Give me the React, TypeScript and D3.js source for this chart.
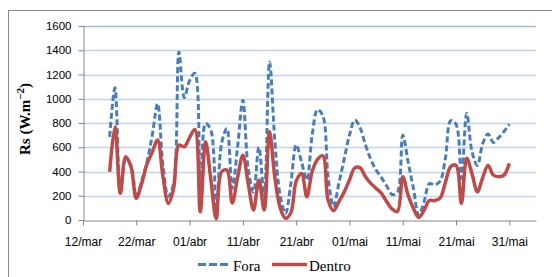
import React, { useEffect, useRef } from 'react';
import * as d3 from 'd3';

// daily values (17/mar .. 31/mai)
const dates = [
  '17/mar', '18/mar', '19/mar', '20/mar', '21/mar', '22/mar', '23/mar', '24/mar', '25/mar', '26/mar',
  '27/mar', '28/mar', '29/mar', '30/mar', '31/mar',
  '01/abr', '02/abr', '03/abr', '04/abr', '05/abr', '06/abr', '07/abr', '08/abr', '09/abr', '10/abr',
  '11/abr', '12/abr', '13/abr', '14/abr', '15/abr', '16/abr', '17/abr', '18/abr', '19/abr', '20/abr',
  '21/abr', '22/abr', '23/abr', '24/abr', '25/abr', '26/abr', '27/abr', '28/abr', '29/abr', '30/abr',
  '01/mai', '02/mai', '03/mai', '04/mai', '05/mai', '06/mai', '07/mai', '08/mai', '09/mai', '10/mai',
  '11/mai', '12/mai', '13/mai', '14/mai', '15/mai', '16/mai', '17/mai', '18/mai', '19/mai', '20/mai',
  '21/mai', '22/mai', '23/mai', '24/mai', '25/mai', '26/mai', '27/mai', '28/mai', '29/mai', '30/mai',
  '31/mai',
];

const foraValues = [
  686, 1090, 240, 500, 450, 190, 320, 480, 700, 960, 450, 195, 300, 1386, 1010,
  1150, 1210, 100, 796, 740, 60, 631, 755, 260, 600, 988, 420, 230, 600, 200,
  1304, 650, 200, 55, 300, 620, 480, 330, 700, 910, 860, 350, 110, 300, 500,
  700, 825, 760, 620, 500, 412, 350, 280, 210, 230, 700, 480, 260, 40, 150,
  300, 290, 320, 510, 820, 790, 343, 880, 560, 450, 630, 710, 640, 680, 730, 790,
];

const dentroValues = [
  398, 768, 220, 521, 439, 179, 300, 460, 560, 659, 360, 137, 260, 617, 604,
  680, 747, 68, 645, 329, 10, 398, 412, 140, 350, 535, 300, 82, 329, 82,
  727, 350, 100, 14, 60, 320, 384, 192, 400, 500, 530, 160, 77, 150, 230,
  330, 430, 430, 357, 302, 261, 220, 151, 90, 70, 357, 205, 96, 20, 80,
  160, 160, 180, 310, 440, 450, 137, 510, 380, 233, 350, 450, 371, 357, 370, 467,
];

const yTicks = [0, 200, 400, 600, 800, 1000, 1200, 1400, 1600];
const xTickLabels = ['12/mar', '22/mar', '01/abr', '11/abr', '21/abr', '01/mai', '11/mai', '21/mai', '31/mai'];

const months = { mar: 2, abr: 3, mai: 4, jun: 5 };
const parseDay = (s) => {
  const [d, m] = s.split('/');
  return new Date(2013, months[m], +d);
};

const App = () => {
  const chartRef = useRef(null);

  useEffect(() => {
    if (!chartRef.current) return;
    d3.select(chartRef.current).selectAll('*').remove();

    const width = 552;
    const height = 277;
    const plot = { left: 83, right: 536, top: 26, bottom: 220 };

    const svg = d3
      .select(chartRef.current)
      .append('svg')
      .attr('width', width)
      .attr('height', height)
      .style('display', 'block');

    svg.append('rect').attr('width', width).attr('height', height).attr('fill', '#fff');

    // chart frame (runs off the right and bottom edges)
    svg
      .append('rect')
      .attr('x', 8.5)
      .attr('y', 10.5)
      .attr('width', 600)
      .attr('height', 300)
      .attr('fill', 'none')
      .attr('stroke', '#8a8a8a');

    const x = d3
      .scaleTime()
      .domain([parseDay('12/mar'), parseDay('05/jun')])
      .range([plot.left, plot.right]);

    const y = d3.scaleLinear().domain([0, 1600]).range([plot.bottom, plot.top]);

    // grid lines
    svg
      .append('g')
      .selectAll('line')
      .data(yTicks.filter((t) => t > 0))
      .join('line')
      .attr('x1', plot.left)
      .attr('x2', plot.right)
      .attr('y1', (d) => Math.round(y(d)) + 0.5)
      .attr('y2', (d) => Math.round(y(d)) + 0.5)
      .attr('stroke', (d) => (d === 1600 ? '#9fbbe0' : '#c3d4ea'))
      .attr('stroke-width', 1.5);

    // y axis
    const yAxis = svg
      .append('g')
      .attr('transform', `translate(${plot.left + 0.5},0)`)
      .call(
        d3
          .axisLeft(y)
          .tickValues(yTicks)
          .tickFormat(d3.format('d'))
          .tickSize(5)
          .tickPadding(7)
          .tickSizeOuter(0)
      );
    yAxis.select('.domain').attr('stroke', '#868686');
    yAxis.selectAll('.tick line').attr('stroke', '#868686');
    yAxis
      .selectAll('text')
      .style('font-family', '"Liberation Sans", Arial, sans-serif')
      .style('font-size', '11.5px')
      .style('fill', '#000');

    // x axis
    const xAxis = svg
      .append('g')
      .attr('transform', `translate(0,${plot.bottom + 0.5})`)
      .call(
        d3
          .axisBottom(x)
          .tickValues(xTickLabels.map(parseDay))
          .tickFormat((d, i) => xTickLabels[i])
          .tickSize(5)
          .tickPadding(12)
          .tickSizeOuter(0)
      );
    xAxis.select('.domain').attr('stroke', '#868686');
    xAxis.selectAll('.tick line').attr('stroke', '#868686');
    xAxis
      .selectAll('text')
      .style('font-family', '"Liberation Sans", Arial, sans-serif')
      .style('font-size', '12px')
      .style('fill', '#000');

    const line = d3
      .line()
      .x((d) => x(d.date))
      .y((d) => y(d.value))
      .curve(d3.curveCatmullRom.alpha(0.5));

    const fora = dates.map((s, i) => ({ date: parseDay(s), value: foraValues[i] }));
    const dentro = dates.map((s, i) => ({ date: parseDay(s), value: dentroValues[i] }));

    svg
      .append('path')
      .datum(fora)
      .attr('d', line)
      .attr('fill', 'none')
      .attr('stroke', '#4a7ebb')
      .attr('stroke-width', 3)
      .attr('stroke-dasharray', '6,3');

    svg
      .append('path')
      .datum(dentro)
      .attr('d', line)
      .attr('fill', 'none')
      .attr('stroke', '#be4b48')
      .attr('stroke-width', 3.5)
      .attr('stroke-linejoin', 'round');

    // y axis title
    const title = svg
      .append('text')
      .attr('transform', 'translate(30,119) rotate(-90)')
      .attr('text-anchor', 'middle')
      .style('font-family', '"Liberation Serif", "Times New Roman", serif')
      .style('font-size', '15px')
      .style('font-weight', 'bold')
      .style('fill', '#000');
    title.append('tspan').text('Rs (W.m');
    title.append('tspan').attr('dy', -6).style('font-size', '11px').text('\u22122');
    title.append('tspan').attr('dy', 6).text(')');

    // legend
    const legend = svg.append('g').style('font-family', '"Liberation Serif", "Times New Roman", serif');
    legend
      .append('line')
      .attr('x1', 198)
      .attr('x2', 228)
      .attr('y1', 264.5)
      .attr('y2', 264.5)
      .attr('stroke', '#4a7ebb')
      .attr('stroke-width', 3)
      .attr('stroke-dasharray', '8,3');
    legend
      .append('text')
      .attr('x', 233)
      .attr('y', 271)
      .style('font-size', '15px')
      .text('Fora');
    legend
      .append('line')
      .attr('x1', 272)
      .attr('x2', 307)
      .attr('y1', 264.5)
      .attr('y2', 264.5)
      .attr('stroke', '#be4b48')
      .attr('stroke-width', 3.5);
    legend
      .append('text')
      .attr('x', 309)
      .attr('y', 271)
      .style('font-size', '15px')
      .text('Dentro');
  }, []);

  return <div ref={chartRef} style={{ position: 'absolute', left: 0, top: 0 }}></div>;
};

export default App;
